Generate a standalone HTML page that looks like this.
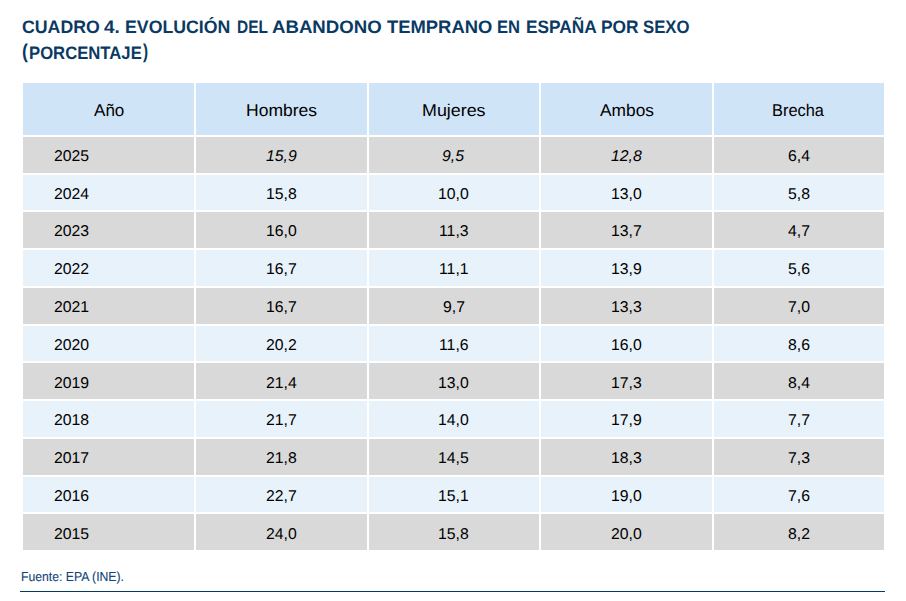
<!DOCTYPE html>
<html><head><meta charset="utf-8"><title>Cuadro 4</title>
<style>
html,body{margin:0;padding:0;background:#fff;}
body{width:906px;height:601px;position:relative;overflow:hidden;font-family:"Liberation Sans",sans-serif;text-rendering:geometricPrecision;}
.s{position:absolute;white-space:nowrap;line-height:40px;transform-origin:0 0;color:#000;}
.c{position:absolute;}
.h{background:#d0e4f8;}
.g{background:#d9d9d9;}
.b{background:#e8f2fb;}
.line{position:absolute;left:20px;top:591px;width:865px;height:1px;background:#023c62;}
</style></head><body>
<div class="s" style="left:22.02px;top:7.00px;font-size:18px;font-weight:bold;color:#0a3a63;transform:scaleX(0.9844)">CUADRO</div>
<div class="s" style="left:104.00px;top:7.00px;font-size:18px;font-weight:bold;color:#0a3a63;transform:scaleX(1.0500)">4.</div>
<div class="s" style="left:124.62px;top:7.00px;font-size:18px;font-weight:bold;color:#0a3a63;transform:scaleX(0.9848)">EVOLUCIÓN</div>
<div class="s" style="left:236.54px;top:7.00px;font-size:18px;font-weight:bold;color:#0a3a63;transform:scaleX(0.8571)">DEL</div>
<div class="s" style="left:272.06px;top:7.00px;font-size:18px;font-weight:bold;color:#0a3a63;transform:scaleX(1.0351)">ABANDONO</div>
<div class="s" style="left:386.50px;top:7.00px;font-size:18px;font-weight:bold;color:#0a3a63;transform:scaleX(1.0221)">TEMPRANO</div>
<div class="s" style="left:496.88px;top:7.00px;font-size:18px;font-weight:bold;color:#0a3a63;transform:scaleX(0.9217)">EN</div>
<div class="s" style="left:525.54px;top:7.00px;font-size:18px;font-weight:bold;color:#0a3a63;transform:scaleX(0.9597)">ESPAÑA</div>
<div class="s" style="left:601.34px;top:7.00px;font-size:18px;font-weight:bold;color:#0a3a63;transform:scaleX(0.9649)">POR</div>
<div class="s" style="left:643.07px;top:7.00px;font-size:18px;font-weight:bold;color:#0a3a63;transform:scaleX(0.9292)">SEXO</div>
<div class="s" style="left:28.87px;top:32.80px;font-size:18px;font-weight:bold;color:#0a3a63;transform:scaleX(0.9267)">PORCENTAJE</div>
<div class="s" style="left:21.62px;top:31.90px;font-size:20px;font-weight:bold;color:#0a3a63;transform:scaleX(0.8800)">(</div>
<div class="s" style="left:143.10px;top:31.90px;font-size:20px;font-weight:bold;color:#0a3a63;transform:scaleX(0.7667)">)</div>
<div class="c h" style="left:23px;top:83px;width:171px;height:52px"></div>
<div class="c h" style="left:196px;top:83px;width:171px;height:52px"></div>
<div class="c h" style="left:369px;top:83px;width:170px;height:52px"></div>
<div class="c h" style="left:541px;top:83px;width:171px;height:52px"></div>
<div class="c h" style="left:714px;top:83px;width:170px;height:52px"></div>
<div class="c g" style="left:23px;top:137px;width:171px;height:36px"></div>
<div class="c g" style="left:196px;top:137px;width:171px;height:36px"></div>
<div class="c g" style="left:369px;top:137px;width:170px;height:36px"></div>
<div class="c g" style="left:541px;top:137px;width:171px;height:36px"></div>
<div class="c g" style="left:714px;top:137px;width:170px;height:36px"></div>
<div class="c b" style="left:23px;top:175px;width:171px;height:35px"></div>
<div class="c b" style="left:196px;top:175px;width:171px;height:35px"></div>
<div class="c b" style="left:369px;top:175px;width:170px;height:35px"></div>
<div class="c b" style="left:541px;top:175px;width:171px;height:35px"></div>
<div class="c b" style="left:714px;top:175px;width:170px;height:35px"></div>
<div class="c g" style="left:23px;top:212px;width:171px;height:36px"></div>
<div class="c g" style="left:196px;top:212px;width:171px;height:36px"></div>
<div class="c g" style="left:369px;top:212px;width:170px;height:36px"></div>
<div class="c g" style="left:541px;top:212px;width:171px;height:36px"></div>
<div class="c g" style="left:714px;top:212px;width:170px;height:36px"></div>
<div class="c b" style="left:23px;top:250px;width:171px;height:36px"></div>
<div class="c b" style="left:196px;top:250px;width:171px;height:36px"></div>
<div class="c b" style="left:369px;top:250px;width:170px;height:36px"></div>
<div class="c b" style="left:541px;top:250px;width:171px;height:36px"></div>
<div class="c b" style="left:714px;top:250px;width:170px;height:36px"></div>
<div class="c g" style="left:23px;top:288px;width:171px;height:36px"></div>
<div class="c g" style="left:196px;top:288px;width:171px;height:36px"></div>
<div class="c g" style="left:369px;top:288px;width:170px;height:36px"></div>
<div class="c g" style="left:541px;top:288px;width:171px;height:36px"></div>
<div class="c g" style="left:714px;top:288px;width:170px;height:36px"></div>
<div class="c b" style="left:23px;top:326px;width:171px;height:35px"></div>
<div class="c b" style="left:196px;top:326px;width:171px;height:35px"></div>
<div class="c b" style="left:369px;top:326px;width:170px;height:35px"></div>
<div class="c b" style="left:541px;top:326px;width:171px;height:35px"></div>
<div class="c b" style="left:714px;top:326px;width:170px;height:35px"></div>
<div class="c g" style="left:23px;top:363px;width:171px;height:36px"></div>
<div class="c g" style="left:196px;top:363px;width:171px;height:36px"></div>
<div class="c g" style="left:369px;top:363px;width:170px;height:36px"></div>
<div class="c g" style="left:541px;top:363px;width:171px;height:36px"></div>
<div class="c g" style="left:714px;top:363px;width:170px;height:36px"></div>
<div class="c b" style="left:23px;top:401px;width:171px;height:36px"></div>
<div class="c b" style="left:196px;top:401px;width:171px;height:36px"></div>
<div class="c b" style="left:369px;top:401px;width:170px;height:36px"></div>
<div class="c b" style="left:541px;top:401px;width:171px;height:36px"></div>
<div class="c b" style="left:714px;top:401px;width:170px;height:36px"></div>
<div class="c g" style="left:23px;top:439px;width:171px;height:36px"></div>
<div class="c g" style="left:196px;top:439px;width:171px;height:36px"></div>
<div class="c g" style="left:369px;top:439px;width:170px;height:36px"></div>
<div class="c g" style="left:541px;top:439px;width:171px;height:36px"></div>
<div class="c g" style="left:714px;top:439px;width:170px;height:36px"></div>
<div class="c b" style="left:23px;top:477px;width:171px;height:35px"></div>
<div class="c b" style="left:196px;top:477px;width:171px;height:35px"></div>
<div class="c b" style="left:369px;top:477px;width:170px;height:35px"></div>
<div class="c b" style="left:541px;top:477px;width:171px;height:35px"></div>
<div class="c b" style="left:714px;top:477px;width:170px;height:35px"></div>
<div class="c g" style="left:23px;top:514px;width:171px;height:36px"></div>
<div class="c g" style="left:196px;top:514px;width:171px;height:36px"></div>
<div class="c g" style="left:369px;top:514px;width:170px;height:36px"></div>
<div class="c g" style="left:541px;top:514px;width:171px;height:36px"></div>
<div class="c g" style="left:714px;top:514px;width:170px;height:36px"></div>
<div class="s" style="left:93.60px;top:91.00px;font-size:17px;color:#000;transform:scaleX(1.0033)">Año</div>
<div class="s" style="left:245.97px;top:91.00px;font-size:17px;color:#000;transform:scaleX(1.0299)">Hombres</div>
<div class="s" style="left:421.95px;top:91.00px;font-size:17px;color:#000;transform:scaleX(1.0508)">Mujeres</div>
<div class="s" style="left:600.00px;top:91.00px;font-size:17px;color:#000;transform:scaleX(1.0192)">Ambos</div>
<div class="s" style="left:772.44px;top:91.00px;font-size:17px;color:#000;transform:scaleX(0.9642)">Brecha</div>
<div class="s" style="left:54.29px;top:136.70px;font-size:15.6px;transform:scale(1.0121,1.0000)">2025</div>
<div class="s" style="left:265.81px;top:136.70px;font-size:15.6px;font-style:italic;transform:scale(1.0121,1.0000)">15,9</div>
<div class="s" style="left:442.36px;top:136.70px;font-size:15.6px;font-style:italic;transform:scale(1.0121,1.0000)">9,5</div>
<div class="s" style="left:610.81px;top:136.70px;font-size:15.6px;font-style:italic;transform:scale(1.0121,1.0000)">12,8</div>
<div class="s" style="left:787.87px;top:136.70px;font-size:15.6px;transform:scale(1.0121,1.0000)">6,4</div>
<div class="s" style="left:54.29px;top:174.51px;font-size:15.6px;transform:scale(1.0121,1.0000)">2024</div>
<div class="s" style="left:265.81px;top:174.51px;font-size:15.6px;transform:scale(1.0121,1.0000)">15,8</div>
<div class="s" style="left:438.31px;top:174.51px;font-size:15.6px;transform:scale(1.0121,1.0000)">10,0</div>
<div class="s" style="left:610.81px;top:174.51px;font-size:15.6px;transform:scale(1.0121,1.0000)">13,0</div>
<div class="s" style="left:787.87px;top:174.51px;font-size:15.6px;transform:scale(1.0121,1.0000)">5,8</div>
<div class="s" style="left:54.29px;top:212.32px;font-size:15.6px;transform:scale(1.0121,1.0000)">2023</div>
<div class="s" style="left:265.81px;top:212.32px;font-size:15.6px;transform:scale(1.0121,1.0000)">16,0</div>
<div class="s" style="left:438.82px;top:212.32px;font-size:15.6px;transform:scale(1.0121,1.0000)">11,3</div>
<div class="s" style="left:610.81px;top:212.32px;font-size:15.6px;transform:scale(1.0121,1.0000)">13,7</div>
<div class="s" style="left:788.37px;top:212.32px;font-size:15.6px;transform:scale(1.0121,1.0000)">4,7</div>
<div class="s" style="left:54.29px;top:250.13px;font-size:15.6px;transform:scale(1.0121,1.0000)">2022</div>
<div class="s" style="left:265.81px;top:250.13px;font-size:15.6px;transform:scale(1.0121,1.0000)">16,7</div>
<div class="s" style="left:439.32px;top:250.13px;font-size:15.6px;transform:scale(1.0121,1.0000)">11,1</div>
<div class="s" style="left:610.81px;top:250.13px;font-size:15.6px;transform:scale(1.0121,1.0000)">13,9</div>
<div class="s" style="left:787.87px;top:250.13px;font-size:15.6px;transform:scale(1.0121,1.0000)">5,6</div>
<div class="s" style="left:54.29px;top:287.94px;font-size:15.6px;transform:scale(1.0121,1.0000)">2021</div>
<div class="s" style="left:265.81px;top:287.94px;font-size:15.6px;transform:scale(1.0121,1.0000)">16,7</div>
<div class="s" style="left:442.87px;top:287.94px;font-size:15.6px;transform:scale(1.0121,1.0000)">9,7</div>
<div class="s" style="left:610.81px;top:287.94px;font-size:15.6px;transform:scale(1.0121,1.0000)">13,3</div>
<div class="s" style="left:787.87px;top:287.94px;font-size:15.6px;transform:scale(1.0121,1.0000)">7,0</div>
<div class="s" style="left:54.29px;top:325.75px;font-size:15.6px;transform:scale(1.0121,1.0000)">2020</div>
<div class="s" style="left:265.81px;top:325.75px;font-size:15.6px;transform:scale(1.0121,1.0000)">20,2</div>
<div class="s" style="left:438.82px;top:325.75px;font-size:15.6px;transform:scale(1.0121,1.0000)">11,6</div>
<div class="s" style="left:610.81px;top:325.75px;font-size:15.6px;transform:scale(1.0121,1.0000)">16,0</div>
<div class="s" style="left:787.87px;top:325.75px;font-size:15.6px;transform:scale(1.0121,1.0000)">8,6</div>
<div class="s" style="left:54.29px;top:363.56px;font-size:15.6px;transform:scale(1.0121,1.0000)">2019</div>
<div class="s" style="left:266.32px;top:363.56px;font-size:15.6px;transform:scale(1.0121,1.0000)">21,4</div>
<div class="s" style="left:438.31px;top:363.56px;font-size:15.6px;transform:scale(1.0121,1.0000)">13,0</div>
<div class="s" style="left:610.81px;top:363.56px;font-size:15.6px;transform:scale(1.0121,1.0000)">17,3</div>
<div class="s" style="left:787.87px;top:363.56px;font-size:15.6px;transform:scale(1.0121,1.0000)">8,4</div>
<div class="s" style="left:54.29px;top:401.37px;font-size:15.6px;transform:scale(1.0121,1.0000)">2018</div>
<div class="s" style="left:265.81px;top:401.37px;font-size:15.6px;transform:scale(1.0121,1.0000)">21,7</div>
<div class="s" style="left:438.31px;top:401.37px;font-size:15.6px;transform:scale(1.0121,1.0000)">14,0</div>
<div class="s" style="left:610.81px;top:401.37px;font-size:15.6px;transform:scale(1.0121,1.0000)">17,9</div>
<div class="s" style="left:787.87px;top:401.37px;font-size:15.6px;transform:scale(1.0121,1.0000)">7,7</div>
<div class="s" style="left:54.29px;top:439.18px;font-size:15.6px;transform:scale(1.0121,1.0000)">2017</div>
<div class="s" style="left:265.81px;top:439.18px;font-size:15.6px;transform:scale(1.0121,1.0000)">21,8</div>
<div class="s" style="left:438.31px;top:439.18px;font-size:15.6px;transform:scale(1.0121,1.0000)">14,5</div>
<div class="s" style="left:610.81px;top:439.18px;font-size:15.6px;transform:scale(1.0121,1.0000)">18,3</div>
<div class="s" style="left:787.87px;top:439.18px;font-size:15.6px;transform:scale(1.0121,1.0000)">7,3</div>
<div class="s" style="left:54.29px;top:476.99px;font-size:15.6px;transform:scale(1.0121,1.0000)">2016</div>
<div class="s" style="left:265.81px;top:476.99px;font-size:15.6px;transform:scale(1.0121,1.0000)">22,7</div>
<div class="s" style="left:438.31px;top:476.99px;font-size:15.6px;transform:scale(1.0121,1.0000)">15,1</div>
<div class="s" style="left:610.81px;top:476.99px;font-size:15.6px;transform:scale(1.0121,1.0000)">19,0</div>
<div class="s" style="left:787.87px;top:476.99px;font-size:15.6px;transform:scale(1.0121,1.0000)">7,6</div>
<div class="s" style="left:54.29px;top:514.80px;font-size:15.6px;transform:scale(1.0121,1.0000)">2015</div>
<div class="s" style="left:265.81px;top:514.80px;font-size:15.6px;transform:scale(1.0121,1.0000)">24,0</div>
<div class="s" style="left:438.31px;top:514.80px;font-size:15.6px;transform:scale(1.0121,1.0000)">15,8</div>
<div class="s" style="left:610.81px;top:514.80px;font-size:15.6px;transform:scale(1.0121,1.0000)">20,0</div>
<div class="s" style="left:787.87px;top:514.80px;font-size:15.6px;transform:scale(1.0121,1.0000)">8,2</div>
<div class="s" style="left:20.56px;top:557.00px;font-size:13px;-webkit-text-stroke:0.12px #12457a;color:#12457a;transform:scaleX(0.9398)">Fuente: EPA (INE).</div>
<div class="line"></div>
</body></html>
